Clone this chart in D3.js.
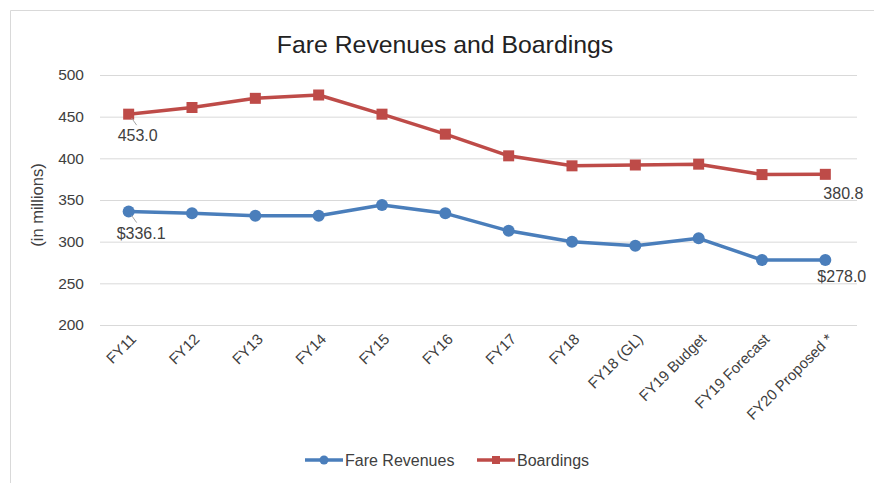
<!DOCTYPE html>
<html>
<head>
<meta charset="utf-8">
<script src="https://cdn.jsdelivr.net/npm/d3@7"></script>
<style>
  body { margin: 0; background: #fff; }
  svg { font-family: "Liberation Sans", Arial, sans-serif; }
</style>
</head>
<body>
<svg id="chart" width="874" height="483"></svg>
<script>
let categories = ["FY11", "FY12", "FY13", "FY14", "FY15", "FY16", "FY17", "FY18",
                  "FY18 (GL)", "FY19 Budget", "FY19 Forecast", "FY20 Proposed *"];
let fareRevenues = [336.1, 334, 331, 331, 344, 334, 313, 300, 295, 304, 278, 278.0];
let boardings = [453.0, 461, 472, 476, 453, 429, 403, 391, 392, 393, 380.5, 380.8];
let yTicks = [200, 250, 300, 350, 400, 450, 500];

let width = 874,
    height = 483,
    margins = {top: 75, bottom: 158, left: 97, right: 17};

let blue = "#4a7ebb",
    red = "#be4b48",
    textColor = "#404040";

let svg = d3.select("#chart");

// light frame of the chart area
svg.append("path")
  .attr("d", `M10.5,${height} V10.5 H${width}`)
  .attr("fill", "none")
  .attr("stroke", "#d9d9d9");

let x = d3.scalePoint()
  .domain(categories)
  .range([margins.left, width - margins.right])
  .padding(0.5);

let y = d3.scaleLinear()
  .domain([200, 500])
  .range([height - margins.bottom, margins.top]);

// gridlines
svg.append("g")
  .selectAll("line")
  .data(yTicks).enter()
  .append("line")
  .attr("x1", margins.left + 3)
  .attr("x2", width - margins.right)
  .attr("y1", d => y(d) + 0.5)
  .attr("y2", d => y(d) + 0.5)
  .attr("stroke", "#d9d9d9");

// y axis labels
let yAxis = d3.axisLeft(y).tickValues(yTicks).tickSize(0).tickPadding(13);
svg.append("g")
  .attr("transform", `translate(${margins.left}, 0)`)
  .call(yAxis)
  .call(g => g.select(".domain").remove())
  .selectAll("text")
  .attr("font-size", 15.5)
  .attr("fill", textColor)
  .attr("font-family", "Liberation Sans, Arial, sans-serif");

// x axis labels
let xAxis = d3.axisBottom(x).tickSize(0).tickPadding(0);
svg.append("g")
  .attr("transform", `translate(0, ${height - margins.bottom})`)
  .call(xAxis)
  .call(g => g.select(".domain").remove())
  .selectAll("text")
  .attr("font-size", 15)
  .attr("fill", textColor)
  .attr("font-family", "Liberation Sans, Arial, sans-serif")
  .attr("text-anchor", "end")
  .attr("dy", null)
  .attr("transform", "translate(8, 15) rotate(-45)");

// y axis title
svg.append("text")
  .attr("transform", "translate(43, 205) rotate(-90)")
  .attr("text-anchor", "middle")
  .attr("font-size", 16.5)
  .attr("fill", textColor)
  .text("(in millions)");

// title
svg.append("text")
  .attr("x", 445)
  .attr("y", 53)
  .attr("text-anchor", "middle")
  .attr("font-size", 24.8)
  .attr("fill", "#222")
  .text("Fare Revenues and Boardings");

let line = d3.line()
  .x((d, i) => x(categories[i]))
  .y(d => y(d));

function draw_series(values, color, shape) {
  svg.append("path")
    .datum(values)
    .attr("d", line)
    .attr("fill", "none")
    .attr("stroke", color)
    .attr("stroke-width", 3.5)
    .attr("stroke-linejoin", "round");

  if (shape == "circle") {
    svg.append("g")
      .selectAll("circle")
      .data(values).enter()
      .append("circle")
      .attr("cx", (d, i) => x(categories[i]))
      .attr("cy", d => y(d))
      .attr("r", 6)
      .attr("fill", color);
  } else {
    svg.append("g")
      .selectAll("rect")
      .data(values).enter()
      .append("rect")
      .attr("x", (d, i) => x(categories[i]) - 5.5)
      .attr("y", d => y(d) - 5.5)
      .attr("width", 11)
      .attr("height", 11)
      .attr("fill", color);
  }
}

draw_series(fareRevenues, blue, "circle");
draw_series(boardings, red, "square");

// data labels at the first and last points
let last = categories.length - 1;
let labels = [
  {v: boardings[0], i: 0, text: d3.format(".1f")(boardings[0]), dx: -11, dy: 27, lead: true},
  {v: fareRevenues[0], i: 0, text: "$" + d3.format(".1f")(fareRevenues[0]), dx: -12, dy: 27, lead: true},
  {v: boardings[last], i: last, text: d3.format(".1f")(boardings[last]), dx: -2, dy: 25, lead: false},
  {v: fareRevenues[last], i: last, text: "$" + d3.format(".1f")(fareRevenues[last]), dx: -8, dy: 22, lead: false}
];

labels.forEach(l => {
  let px = x(categories[l.i]), py = y(l.v);
  if (l.lead) {
    svg.append("line")
      .attr("x1", px + 3).attr("y1", py + 4)
      .attr("x2", px + 8).attr("y2", py + 11)
      .attr("stroke", "#a6a6a6");
  }
  svg.append("text")
    .attr("x", px + l.dx)
    .attr("y", py + l.dy)
    .attr("font-size", 16)
    .attr("fill", textColor)
    .text(l.text);
});

// legend
let legend = [
  {name: "Fare Revenues", color: blue, shape: "circle", x: 305},
  {name: "Boardings", color: red, shape: "square", x: 477}
];
let ly = 460;
legend.forEach(d => {
  let g = svg.append("g");
  g.append("line")
    .attr("x1", d.x).attr("x2", d.x + 38)
    .attr("y1", ly).attr("y2", ly)
    .attr("stroke", d.color)
    .attr("stroke-width", 3.5);
  if (d.shape == "circle") {
    g.append("circle").attr("cx", d.x + 19).attr("cy", ly).attr("r", 4.5).attr("fill", d.color);
  } else {
    g.append("rect").attr("x", d.x + 15).attr("y", ly - 4).attr("width", 8).attr("height", 8).attr("fill", d.color);
  }
  g.append("text")
    .attr("x", d.x + 40)
    .attr("y", ly + 6)
    .attr("font-size", 16)
    .attr("fill", textColor)
    .text(d.name);
});
</script>
</body>
</html>
